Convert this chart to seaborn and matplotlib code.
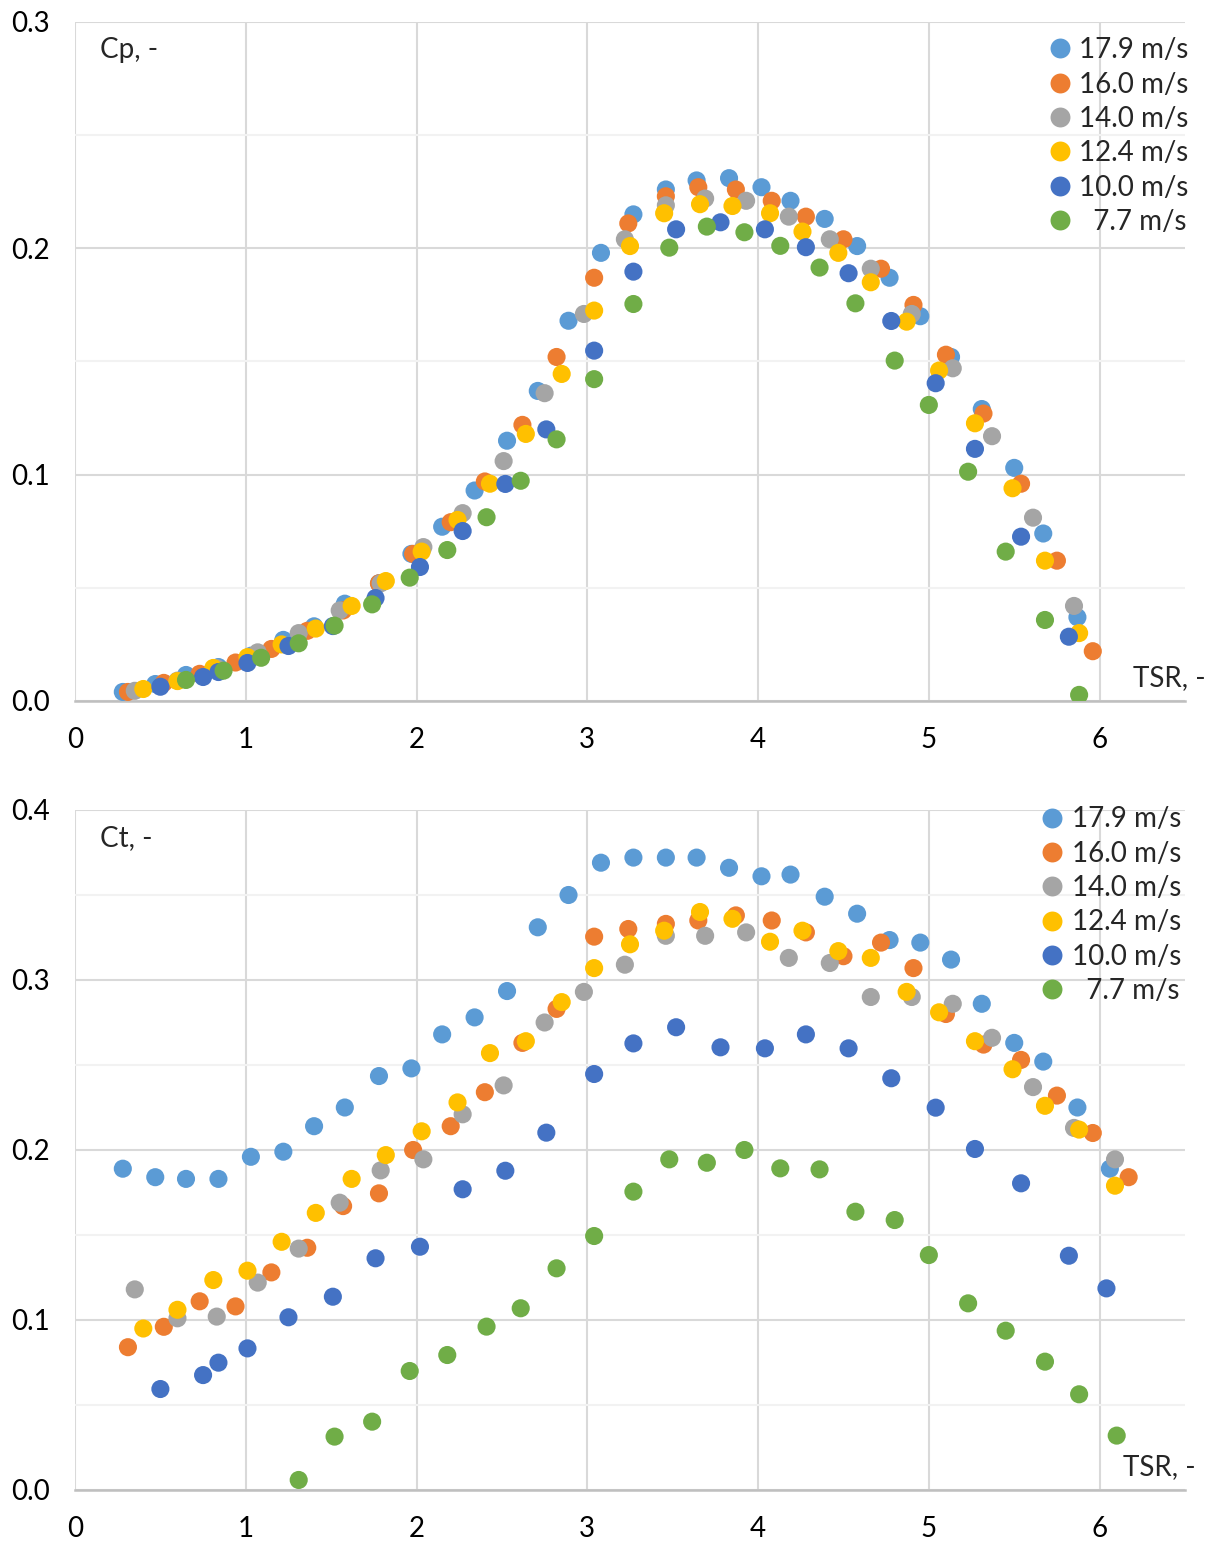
import numpy as np
import pandas as pd
import matplotlib
matplotlib.use("Agg")
import matplotlib.pyplot as plt
from matplotlib.ticker import MultipleLocator, FormatStrFormatter
import seaborn as sns

nan = np.nan

# ---- data: wind speed series (TSR, Cp, Ct) ----
labels = ["17.9 m/s", "16.0 m/s", "14.0 m/s", "12.4 m/s", "10.0 m/s", "  7.7 m/s"]
colors = ["#5B9BD5", "#ED7D31", "#A5A5A5", "#FFC000", "#4472C4", "#70AD47"]

tsr_179 = [0.28, 0.47, 0.65, 0.84, 1.03, 1.22, 1.40, 1.58, 1.78, 1.97, 2.15, 2.34, 2.53, 2.71, 2.89, 3.08,
           3.27, 3.46, 3.64, 3.83, 4.02, 4.19, 4.39, 4.58, 4.77, 4.95, 5.13, 5.31, 5.50, 5.67, 5.87, 6.06]
cp_179 = [0.004, 0.0075, 0.0115, 0.015, 0.020, 0.027, 0.033, 0.043, 0.052, 0.065, 0.077, 0.093, 0.115, 0.137,
          0.168, 0.198, 0.215, 0.226, 0.230, 0.231, 0.227, 0.221, 0.213, 0.201, 0.187, 0.170, 0.152, 0.129,
          0.103, 0.074, 0.037, nan]
ct_179 = [0.189, 0.184, 0.183, 0.183, 0.196, 0.199, 0.214, 0.225, 0.2435, 0.248, 0.268, 0.278, 0.2935, 0.331,
          0.350, 0.369, 0.372, 0.372, 0.372, 0.366, 0.361, 0.362, 0.349, 0.339, 0.3235, 0.322, 0.312, 0.286,
          0.263, 0.252, 0.225, 0.189]

tsr_160 = [0.31, 0.52, 0.73, 0.94, 1.15, 1.36, 1.57, 1.78, 1.98, 2.20, 2.40, 2.62, 2.82, 3.04, 3.24, 3.46,
           3.65, 3.87, 4.08, 4.28, 4.50, 4.72, 4.91, 5.10, 5.32, 5.54, 5.75, 5.96, 6.17]
cp_160 = [0.004, 0.008, 0.012, 0.017, 0.023, 0.031, 0.040, 0.052, 0.065, 0.079, 0.097, 0.122, 0.152, 0.187,
          0.211, 0.223, 0.227, 0.226, 0.221, 0.214, 0.204, 0.191, 0.175, 0.153, 0.127, 0.096, 0.062, 0.022, nan]
ct_160 = [0.084, 0.096, 0.111, 0.108, 0.128, 0.1425, 0.167, 0.1745, 0.200, 0.214, 0.234, 0.263, 0.283, 0.3255,
          0.330, 0.333, 0.335, 0.338, 0.335, 0.328, 0.314, 0.322, 0.307, 0.280, 0.262, 0.253, 0.232, 0.210, 0.184]

tsr_140 = [0.35, 0.60, 0.83, 1.07, 1.31, 1.55, 1.79, 2.04, 2.27, 2.51, 2.75, 2.98, 3.22, 3.46, 3.69, 3.93,
           4.18, 4.42, 4.66, 4.90, 5.14, 5.37, 5.61, 5.85, 6.09]
cp_140 = [0.0045, 0.009, 0.0145, 0.0215, 0.030, 0.040, 0.052, 0.068, 0.083, 0.106, 0.136, 0.171, 0.204, 0.219,
          0.222, 0.221, 0.214, 0.204, 0.191, 0.171, 0.147, 0.117, 0.081, 0.042, nan]
ct_140 = [0.118, 0.101, 0.102, 0.122, 0.142, 0.169, 0.188, 0.1945, 0.221, 0.238, 0.275, 0.293, 0.309, 0.326,
          0.326, 0.328, 0.313, 0.310, 0.290, 0.290, 0.286, 0.266, 0.237, 0.213, 0.1945]

tsr_124 = [0.40, 0.60, 0.81, 1.01, 1.21, 1.41, 1.62, 1.82, 2.03, 2.24, 2.43, 2.64, 2.85, 3.04, 3.25, 3.45,
           3.66, 3.85, 4.07, 4.26, 4.47, 4.66, 4.87, 5.06, 5.27, 5.49, 5.68, 5.88, 6.09]
cp_124 = [0.0053, 0.0088, 0.0146, 0.0194, 0.025, 0.032, 0.042, 0.053, 0.066, 0.080, 0.096, 0.118, 0.1445, 0.1725,
          0.201, 0.2155, 0.2195, 0.2187, 0.2155, 0.2074, 0.198, 0.185, 0.1676, 0.146, 0.1227, 0.094, 0.062,
          0.030, nan]
ct_124 = [0.095, 0.106, 0.1235, 0.129, 0.146, 0.163, 0.183, 0.197, 0.211, 0.228, 0.257, 0.264, 0.287, 0.307,
          0.321, 0.329, 0.340, 0.336, 0.3225, 0.329, 0.317, 0.313, 0.293, 0.281, 0.264, 0.2475, 0.226, 0.212, 0.179]

tsr_100 = [0.50, 0.75, 0.84, 1.01, 1.25, 1.51, 1.76, 2.02, 2.27, 2.52, 2.76, 3.04, 3.27, 3.52, 3.78, 4.04,
           4.28, 4.53, 4.78, 5.04, 5.27, 5.54, 5.82, 6.04]
cp_100 = [0.0063, 0.0106, 0.0128, 0.0168, 0.0243, 0.0331, 0.0455, 0.0592, 0.0751, 0.0959, 0.120, 0.1548, 0.1897,
          0.2084, 0.2115, 0.2084, 0.2005, 0.189, 0.1679, 0.1404, 0.1114, 0.0726, 0.0284, nan]
ct_100 = [0.0594, 0.0676, 0.0749, 0.0833, 0.1016, 0.1137, 0.1363, 0.1431, 0.1769, 0.1878, 0.2102, 0.2447, 0.2627,
          0.2722, 0.2604, 0.2598, 0.2680, 0.2598, 0.2422, 0.2249, 0.2006, 0.1804, 0.1378, 0.1186]

tsr_77 = [0.65, 0.87, 1.09, 1.31, 1.52, 1.74, 1.96, 2.18, 2.41, 2.61, 2.82, 3.04, 3.27, 3.48, 3.70, 3.92,
          4.13, 4.36, 4.57, 4.80, 5.00, 5.23, 5.45, 5.68, 5.88, 6.10]
cp_77 = [0.0093, 0.0134, 0.0191, 0.0255, 0.0333, 0.0427, 0.0545, 0.0667, 0.0812, 0.0973, 0.1156, 0.1422, 0.1754,
         0.2003, 0.2096, 0.2071, 0.2011, 0.1915, 0.1757, 0.1504, 0.1308, 0.1013, 0.066, 0.0358, 0.0027, nan]
ct_77 = [nan, nan, nan, 0.0059, 0.0314, 0.0402, 0.070, 0.0794, 0.0961, 0.1069, 0.1304, 0.1494, 0.1755, 0.1945,
         0.1925, 0.200, 0.1892, 0.1886, 0.1637, 0.1588, 0.1382, 0.1098, 0.0937, 0.0755, 0.0563, 0.032]

series = [(tsr_179, cp_179, ct_179), (tsr_160, cp_160, ct_160), (tsr_140, cp_140, ct_140),
          (tsr_124, cp_124, ct_124), (tsr_100, cp_100, ct_100), (tsr_77, cp_77, ct_77)]

frames = []
for lab, (t, cp, ct) in zip(labels, series):
    frames.append(pd.DataFrame({"TSR": t, "Cp": cp, "Ct": ct, "speed": lab}))
df = pd.concat(frames, ignore_index=True)

# ---- style ----
sns.set_theme(style="white")
plt.rcParams["font.family"] = ["Lato", "DejaVu Sans"]
FS = 20
plt.rcParams["font.size"] = FS

fig = plt.figure(figsize=(12.10, 15.42), dpi=100)
ax1 = fig.add_axes([75 / 1210, 1 - 701 / 1542, 1110 / 1210, 679 / 1542])
ax2 = fig.add_axes([75 / 1210, 1 - 1490 / 1542, 1110 / 1210, 680 / 1542])

GRID_MAJ = "#D9D9D9"
GRID_MIN = "#F2F2F2"
AXIS = "#BFBFBF"


def style(ax, ymax, ylabel_text, tsr_x, legend_anchor):
    ax.set_xlim(0, 6.5)
    ax.set_ylim(0, ymax)
    ax.xaxis.set_major_locator(MultipleLocator(1))
    ax.yaxis.set_major_locator(MultipleLocator(0.1))
    ax.yaxis.set_minor_locator(MultipleLocator(0.05))
    ax.yaxis.set_major_formatter(FormatStrFormatter("%.1f"))
    ax.xaxis.set_major_formatter(FormatStrFormatter("%d"))
    ax.set_axisbelow(True)
    ax.grid(which="major", axis="both", color=GRID_MAJ, lw=1.5)
    ax.grid(which="minor", axis="y", color=GRID_MIN, lw=1.5)
    for s in ["top", "right", "left"]:
        ax.spines[s].set_visible(False)
    ax.spines["bottom"].set_color(AXIS)
    ax.spines["bottom"].set_linewidth(1.8)
    ax.tick_params(axis="both", which="both", length=0, labelsize=FS, colors="black")
    ax.tick_params(axis="y", pad=18)
    ax.tick_params(axis="x", pad=19)
    ax.set_xlabel("")
    ax.set_ylabel("")
    ax.text(0.0225, 0.959, ylabel_text, transform=ax.transAxes, ha="left", va="center", fontsize=FS)
    ax.text(tsr_x, 0.034, "TSR, -", transform=ax.transAxes, ha="left",
            va="center", fontsize=FS, clip_on=False)
    sns.move_legend(ax, "upper right", bbox_to_anchor=legend_anchor, frameon=False, title=None,
                    fontsize=FS, labelspacing=0.3, handlelength=0.7, handletextpad=0.35,
                    borderaxespad=0.0, markerscale=1.1)


for ax, col in [(ax1, "Cp"), (ax2, "Ct")]:
    sns.scatterplot(data=df, x="TSR", y=col, hue="speed", hue_order=labels, palette=colors,
                    s=170, linewidth=0, ax=ax, legend=True, zorder=3)

style(ax1, 0.3, "Cp, -", 0.9535, (1.0134, 0.994))
style(ax2, 0.4, "Ct, -", 0.9444, (1.0063, 1.0216))

fig.savefig("out.png", dpi=100)
